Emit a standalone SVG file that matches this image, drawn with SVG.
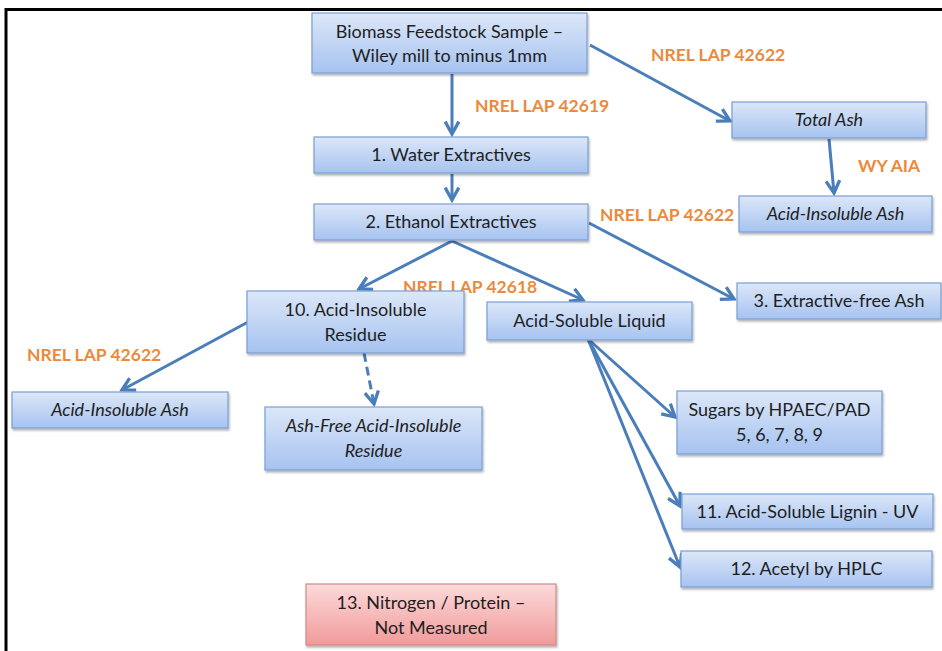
<svg xmlns="http://www.w3.org/2000/svg" width="942" height="651" viewBox="0 0 942 651">
<defs>
<linearGradient id="gb" x1="0" y1="0" x2="0" y2="1">
<stop offset="0" stop-color="#dce7f8"/>
<stop offset="1" stop-color="#a6c3f0"/>
</linearGradient>
<linearGradient id="gr" x1="0" y1="0" x2="0" y2="1">
<stop offset="0" stop-color="#fcdada"/>
<stop offset="1" stop-color="#f19a9a"/>
</linearGradient>
<filter id="sh" x="-5%" y="-10%" width="110%" height="130%">
<feDropShadow dx="1" dy="2" stdDeviation="1.2" flood-color="#000" flood-opacity="0.3"/>
</filter>
<marker id="ah" viewBox="0 0 12 12" refX="10" refY="6" markerWidth="5.5" markerHeight="5.5" markerUnits="strokeWidth" orient="auto">
<path d="M1,1 L10,6 L1,11" fill="none" stroke="#4a7ebb" stroke-width="2.4" stroke-linejoin="miter"/>
</marker>
</defs>
<style>
.box{fill:url(#gb);stroke:#7a9fd2;stroke-width:1.2;filter:url(#sh)}
.pink{fill:url(#gr);stroke:#d08a8a;stroke-width:1.2;filter:url(#sh)}
.t{font-family:Lato,"Liberation Sans",sans-serif;font-size:18px;fill:#1e1e1e;text-anchor:middle}
.i{font-style:italic}
.lbl{font-family:Lato,"Liberation Sans",sans-serif;font-size:17.5px;fill:#ec8a3c;font-weight:bold}
.c{fill:none;stroke:#4a7ebb;stroke-width:3;marker-end:url(#ah)}
.d{stroke-dasharray:9,5}
</style>
<rect x="0" y="0" width="942" height="651" fill="#fff"/>
<rect x="6" y="9.5" width="960" height="680" fill="none" stroke="#000" stroke-width="3"/>

<g id="labels">
<text class="lbl" x="651" y="61">NREL LAP 42622</text>
<text class="lbl" x="475" y="112">NREL LAP 42619</text>
<text class="lbl" x="858" y="172">WY AIA</text>
<text class="lbl" x="600" y="221">NREL LAP 42622</text>
<text class="lbl" x="403" y="293">NREL LAP 42618</text>
<text class="lbl" x="27" y="361">NREL LAP 42622</text>
</g>

<g id="connectors">
<path class="c" d="M452,74 L452,134"/>
<path class="c" d="M590,45 L730,121"/>
<path class="c" d="M452,174 L452,200"/>
<path class="c" d="M829,139 L834,193"/>
<path class="c" d="M452,241 L359,289"/>
<path class="c" d="M452,241 L583,300"/>
<path class="c" d="M589,223 L734,299"/>
<path class="c" d="M248,322 L122,390"/>
<path class="c d" d="M364,353 L374,404"/>
<path class="c" d="M588,339 L675,417"/>
<path class="c" d="M588,339 L680,506"/>
<path class="c" d="M588,339 L680,567"/>
</g>

<g id="n-biomass"><rect class="box" x="312" y="13" width="275" height="60"/>
<text class="t" x="449.5" y="38">Biomass Feedstock Sample –</text>
<text class="t" x="449.5" y="62">Wiley mill to minus 1mm</text></g>

<g id="n-totalash"><rect class="box" x="732" y="102" width="194" height="36"/>
<text class="t i" x="829" y="126">Total Ash</text></g>

<g id="n-water"><rect class="box" x="314" y="137" width="274" height="36"/>
<text class="t" x="451" y="161">1. Water Extractives</text></g>

<g id="n-ethanol"><rect class="box" x="314" y="204" width="274" height="36"/>
<text class="t" x="451" y="228">2. Ethanol Extractives</text></g>

<g id="n-aia-right"><rect class="box" x="739" y="196" width="193" height="36"/>
<text class="t i" x="835.5" y="220">Acid-Insoluble Ash</text></g>

<g id="n-extfree"><rect class="box" x="737" y="283" width="204" height="36"/>
<text class="t" x="839" y="307">3. Extractive-free Ash</text></g>

<g id="n-air"><rect class="box" x="247" y="291" width="217" height="62"/>
<text class="t" x="355.5" y="316">10. Acid-Insoluble</text>
<text class="t" x="355.5" y="341">Residue</text></g>

<g id="n-asl"><rect class="box" x="487" y="302" width="205" height="38"/>
<text class="t" x="589.5" y="327">Acid-Soluble Liquid</text></g>

<g id="n-aia-left"><rect class="box" x="12" y="392" width="216" height="36"/>
<text class="t i" x="120" y="416">Acid-Insoluble Ash</text></g>

<g id="n-ashfree"><rect class="box" x="265" y="407" width="217" height="63"/>
<text class="t i" x="373.5" y="432">Ash-Free Acid-Insoluble</text>
<text class="t i" x="373.5" y="457">Residue</text></g>

<g id="n-sugars"><rect class="box" x="677" y="391" width="205" height="63"/>
<text class="t" x="779.5" y="416">Sugars by HPAEC/PAD</text>
<text class="t" x="779.5" y="441">5, 6, 7, 8, 9</text></g>

<g id="n-lignin"><rect class="box" x="682" y="494" width="251" height="35"/>
<text class="t" x="807.5" y="518">11. Acid-Soluble Lignin - UV</text></g>

<g id="n-acetyl"><rect class="box" x="681" y="551" width="251" height="36"/>
<text class="t" x="806.5" y="575">12. Acetyl by HPLC</text></g>

<g id="n-nitrogen"><rect class="pink" x="306" y="584" width="250" height="61"/>
<text class="t" x="431" y="609">13. Nitrogen / Protein –</text>
<text class="t" x="431" y="634">Not Measured</text></g>
</svg>
